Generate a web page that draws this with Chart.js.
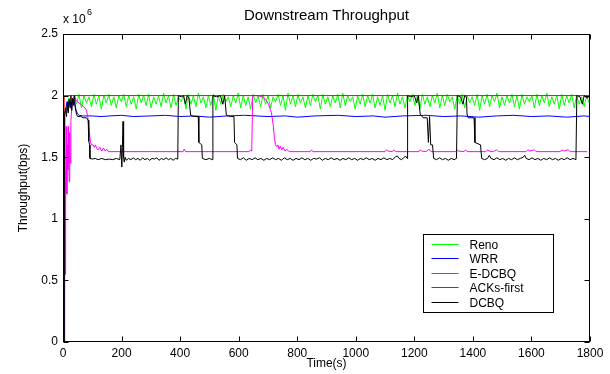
<!DOCTYPE html>
<html>
<head>
<meta charset="utf-8">
<script src="https://cdn.jsdelivr.net/npm/chart.js@4.4.0/dist/chart.umd.min.js"></script>
<style>
  html, body { margin:0; padding:0; background:#fff; }
  #wrap { width:610px; height:374px; position:relative; }
</style>
</head>
<body>
<div id="wrap"><canvas id="myChart"></canvas></div>
<script>
// throughput in units of 1e6 bps, time in seconds
const xTicks = [0, 200, 400, 600, 800, 1000, 1200, 1400, 1600, 1800];
const xTickLabels = ['0', '200', '400', '600', '800', '1000', '1200', '1400', '1600', '1800'];
const yTicks = [0, 0.5, 1, 1.5, 2, 2.5];
const yTickLabels = ['0', '0.5', '1', '1.5', '2', '2.5'];

const seriesNames = ['Reno', 'WRR', 'E-DCBQ', 'ACKs-first', 'DCBQ'];
const seriesColors = ['#00ff00', '#0000ff', '#ff00ff', '#ff0000', '#000000'];

// Reno is sampled on a regular clock
const renoStart = 12, renoStep = 8.5;
const renoThr = [
  1.90, 1.98, 1.92, 2.00, 1.93, 2.01, 1.90, 2.00, 1.94, 1.99, 1.91, 2.01, 1.93, 2.00, 1.89, 2.00, 1.94, 2.01, 1.92, 1.99,
  1.90, 2.00, 1.95, 2.01, 1.91, 2.00, 1.93, 1.99, 1.89, 2.01, 1.94, 2.00, 1.92, 2.01, 1.90, 1.99, 1.93, 2.00, 1.91, 2.02,
  1.94, 2.00, 1.90, 2.01, 1.92, 1.99, 1.95, 2.00, 1.89, 2.01, 1.93, 2.00, 1.91, 2.02, 1.94, 1.99, 1.90, 2.00, 1.92, 2.01,
  1.88, 2.00, 1.93, 2.01, 1.95, 1.99, 1.91, 2.00, 1.94, 2.02, 1.90, 2.00, 1.92, 1.99, 1.89, 2.01, 1.94, 2.00, 1.91, 2.01,
  1.93, 2.00, 1.90, 1.99, 1.95, 2.01, 1.92, 2.00, 1.88, 2.02, 1.93, 2.00, 1.91, 2.01, 1.94, 1.99, 1.90, 2.00, 1.92, 2.01,
  1.95, 2.00, 1.89, 2.01, 1.93, 1.99, 1.91, 2.00, 1.94, 2.01, 1.90, 2.02, 1.92, 2.00, 1.95, 1.99, 1.89, 2.00, 1.93, 2.01,
  1.91, 2.00, 1.94, 2.01, 1.90, 1.99, 1.92, 2.00, 1.88, 2.01, 1.94, 2.00, 1.91, 2.02, 1.93, 1.99, 1.90, 2.00, 1.95, 2.01,
  1.92, 2.00, 1.89, 2.01, 1.93, 1.99, 1.91, 2.00, 1.94, 2.02, 1.90, 2.00, 1.92, 2.01, 1.95, 1.99, 1.89, 2.00, 1.93, 2.01,
  1.90, 2.00, 1.94, 1.99, 1.92, 2.01, 1.88, 2.00, 1.93, 2.01, 1.91, 2.00, 1.95, 2.02, 1.90, 1.99, 1.92, 2.00, 1.94, 2.01,
  1.91, 2.00, 1.89, 2.01, 1.93, 1.99, 1.95, 2.00, 1.90, 2.01, 1.92, 2.00, 1.94, 2.02, 1.91, 1.99, 1.93, 2.00, 1.89, 2.01,
  1.92, 2.00, 1.94, 2.01, 1.90, 2.00, 1.93, 1.99, 1.91, 2.00, 1.94
];

const wrrTime = [0, 3, 6, 10, 14, 17, 20, 24, 28, 32, 36, 40, 45, 50, 55, 70, 100, 130, 160, 200, 240, 300, 350, 400,
  450, 500, 560, 620, 700, 760, 800, 860, 940, 1000, 1060, 1100, 1160, 1240, 1300, 1360, 1420, 1480, 1540, 1600, 1660, 1720, 1780, 1800];
const wrrThr = [0, 0.9, 1.85, 1.9, 1.95, 1.88, 1.93, 1.96, 1.9, 1.95, 1.97, 1.93, 1.88, 1.85, 1.84, 1.835, 1.835, 1.83, 1.835, 1.84, 1.83, 1.835, 1.84, 1.83,
  1.835, 1.825, 1.835, 1.84, 1.83, 1.835, 1.825, 1.835, 1.84, 1.83, 1.835, 1.825, 1.835, 1.84, 1.83, 1.835, 1.825, 1.835, 1.84, 1.83, 1.835, 1.825, 1.835, 1.83];

const edcbqTime = [0, 3, 5, 7, 9, 11, 13, 15, 17, 19, 21, 23, 25, 27, 30, 33, 36, 40, 45, 50, 55, 60, 65, 70, 75, 80, 85, 90, 94, 98,
  103, 107, 111, 115, 120, 126, 132, 138, 144, 150, 155, 200, 260, 300, 410, 414, 417, 420, 600, 636, 640, 643, 645, 648, 665, 680, 692, 702, 712, 718,
  722, 726, 730, 734, 738, 742, 747, 752, 758, 765, 772, 845, 849, 853, 1100, 1105, 1110, 1125, 1130, 1135, 1216, 1220, 1225, 1240, 1250, 1255, 1260,
  1341, 1345, 1350, 1370, 1375, 1380, 1444, 1450, 1455, 1470, 1480, 1488, 1582, 1588, 1594, 1610, 1616, 1699, 1704, 1710, 1726, 1732, 1790];
const edcbqThr = [0, 0.9, 1.5, 0.55, 1.3, 1.75, 1.2, 1.6, 1.4, 1.75, 1.3, 1.7, 1.45, 1.8, 1.9, 1.97, 1.93, 2.0, 1.96, 1.95, 1.94, 1.93, 1.92, 1.91, 1.9, 1.88, 1.82, 1.7, 1.62, 1.6,
  1.6, 1.58, 1.6, 1.57, 1.56, 1.58, 1.55, 1.575, 1.55, 1.565, 1.545, 1.545, 1.545, 1.545, 1.545, 1.565, 1.55, 1.545, 1.545, 1.545, 1.56, 1.55, 1.6, 2.0, 2.0, 1.99, 1.97, 1.93, 1.86, 1.76,
  1.66, 1.6, 1.585, 1.6, 1.565, 1.59, 1.56, 1.58, 1.55, 1.565, 1.545, 1.545, 1.56, 1.545, 1.545, 1.56, 1.55, 1.545, 1.56, 1.545, 1.545, 1.56, 1.55, 1.545, 1.565, 1.55, 1.545,
  1.545, 1.56, 1.55, 1.545, 1.56, 1.545, 1.545, 1.56, 1.55, 1.545, 1.56, 1.545, 1.545, 1.56, 1.55, 1.56, 1.545, 1.545, 1.56, 1.55, 1.56, 1.545, 1.545];

const acksTime = [0, 2, 4, 1800];
const acksThr = [0, 0.6, 2.0, 2.0];

const dcbqTime = [0, 4, 5, 6, 9, 12, 15, 18, 21, 24, 27, 30, 33, 36, 39, 42, 46, 50, 60, 70, 80, 86, 88, 91, 92,
  100, 110, 120, 132, 145, 158, 170, 182, 194, 198, 201, 203, 205, 207, 209, 212, 216, 224, 232, 240, 248, 256, 264, 272, 280, 288, 296,
  304, 312, 320, 328, 336, 344, 352, 360, 368, 376, 384, 392, 394, 404, 412, 418, 424, 430, 436, 448, 462, 464, 474, 476, 488, 500, 510,
  512, 525, 538, 546, 552, 558, 572, 584, 586, 594, 596, 606, 616, 626, 636, 646, 656, 666, 676, 686, 696, 706, 716, 726, 736, 746, 756,
  766, 776, 786, 796, 806, 816, 826, 836, 846, 856, 866, 876, 886, 896, 906, 916, 926, 936, 946, 956, 966, 976, 986, 996, 1006, 1016,
  1026, 1036, 1046, 1056, 1066, 1076, 1086, 1096, 1106, 1116, 1126, 1136, 1142, 1148, 1156, 1164, 1170, 1175, 1177, 1188, 1200, 1208,
  1214, 1220, 1230, 1244, 1248, 1252, 1256, 1262, 1266, 1276, 1286, 1296, 1306, 1316, 1326, 1336, 1344, 1347, 1358, 1366, 1372, 1378,
  1380, 1384, 1404, 1407, 1426, 1430, 1440, 1450, 1456, 1462, 1472, 1482, 1492, 1502, 1512, 1522, 1532, 1542, 1552, 1562, 1572, 1577,
  1582, 1592, 1602, 1612, 1622, 1632, 1642, 1652, 1662, 1672, 1682, 1692, 1702, 1712, 1722, 1732, 1742, 1752, 1755, 1766, 1774, 1780, 1790, 1800];
const dcbqThr = [0, 0, 0.95, 1.85, 1.9, 1.83, 1.95, 1.86, 1.97, 1.9, 2.0, 1.88, 1.98, 1.92, 2.0, 1.9, 1.85, 1.83, 1.83, 1.82, 1.82, 1.8, 1.63, 1.6, 1.49,
  1.485, 1.49, 1.48, 1.49, 1.48, 1.485, 1.48, 1.49, 1.48, 1.6, 1.42, 1.58, 1.79, 1.5, 1.46, 1.5, 1.475, 1.49, 1.48, 1.495, 1.48, 1.49, 1.475, 1.495, 1.48, 1.49, 1.475,
  1.49, 1.485, 1.495, 1.475, 1.49, 1.48, 1.495, 1.48, 1.49, 1.475, 1.49, 1.485, 2.0, 1.99, 2.0, 1.93, 2.0, 1.98, 1.84, 1.83, 1.83, 1.62, 1.6, 1.49, 1.48, 1.49, 1.48,
  2.0, 1.99, 2.0, 1.93, 2.0, 1.84, 1.83, 1.83, 1.62, 1.6, 1.49, 1.48, 1.495, 1.475, 1.49, 1.48, 1.495, 1.48, 1.49, 1.475, 1.49, 1.48, 1.495, 1.48, 1.49, 1.475, 1.495,
  1.48, 1.49, 1.475, 1.49, 1.48, 1.495, 1.48, 1.49, 1.475, 1.49, 1.485, 1.495, 1.475, 1.49, 1.48, 1.495, 1.48, 1.49, 1.475, 1.49, 1.48, 1.495, 1.48, 1.49, 1.475, 1.49,
  1.48, 1.495, 1.48, 1.49, 1.475, 1.49, 1.48, 1.495, 1.48, 1.49, 1.48, 1.505, 1.51, 1.49, 1.48, 1.495, 1.51, 1.49, 2.0, 1.99, 2.0, 1.94,
  2.0, 1.85, 1.82, 1.82, 1.62, 1.83, 1.6, 1.6, 1.49, 1.48, 1.495, 1.48, 1.49, 1.475, 1.49, 1.48, 1.49, 2.0, 1.99, 1.93, 2.0, 1.99,
  1.85, 1.82, 1.82, 1.62, 1.6, 1.49, 1.48, 1.49, 1.515, 1.49, 1.48, 1.495, 1.48, 1.49, 1.475, 1.49, 1.48, 1.495, 1.48, 1.49, 1.5, 1.515,
  1.49, 1.48, 1.495, 1.48, 1.49, 1.475, 1.49, 1.48, 1.495, 1.48, 1.49, 1.475, 1.49, 1.48, 1.495, 1.48, 1.49, 1.48, 2.0, 1.99, 1.93, 2.0, 1.98, 2.0];

const toPoints = (t, v) => t.map((x, i) => ({x: x, y: v[i]}));
const renoPts = renoThr.map((v, i) => ({x: renoStart + i * renoStep, y: v}));

const FONT = 'Liberation Sans, Arial, sans-serif';

const seriesData = [
  renoPts,
  toPoints(wrrTime, wrrThr),
  toPoints(edcbqTime, edcbqThr),
  toPoints(acksTime, acksThr),
  toPoints(dcbqTime, dcbqThr)
];

// matlab look: boxed axes, inward ticks, legend inside
const matlabAxes = {
  id: 'matlabAxes',
  afterDraw(chart) {
    const c = chart.ctx, a = chart.chartArea;
    const xs = chart.scales.x, ys = chart.scales.y;
    c.save();
    c.strokeStyle = '#000';
    c.lineWidth = 1;
    const L = Math.round(a.left) + 0.5, R = Math.round(a.right) - 0.5;
    const T = Math.round(a.top) + 0.5, B = Math.round(a.bottom) - 0.5;
    c.strokeRect(L, T, R - L, B - T);
    const tl = 5;
    c.beginPath();
    xTicks.forEach(v => {
      const px = Math.round(xs.getPixelForValue(v)) + 0.5;
      c.moveTo(px, B); c.lineTo(px, B - tl);
      c.moveTo(px, T); c.lineTo(px, T + tl);
    });
    yTicks.forEach(v => {
      const py = Math.round(ys.getPixelForValue(v)) + 0.5;
      c.moveTo(L, py); c.lineTo(L + tl, py);
      c.moveTo(R, py); c.lineTo(R - tl, py);
    });
    c.stroke();

    c.fillStyle = '#000';
    // title
    c.font = '15px ' + FONT;
    c.textAlign = 'center';
    c.textBaseline = 'alphabetic';
    c.fillText('Downstream Throughput', (a.left + a.right) / 2, 20);
    // exponent
    c.font = '12px ' + FONT;
    c.textAlign = 'left';
    c.fillText('x 10', 63, 23);
    c.font = '9px ' + FONT;
    c.fillText('6', 87, 15);
    // axis titles
    c.font = '12px ' + FONT;
    c.textAlign = 'center';
    c.fillText('Time(s)', (a.left + a.right) / 2, 367);
    c.save();
    c.translate(27, (a.top + a.bottom) / 2);
    c.rotate(-Math.PI / 2);
    c.fillText('Throughput(bps)', 0, 0);
    c.restore();

    // legend box
    const lx = 423.5, ly = 234.5, lw = 130, lh = 78;
    c.fillStyle = '#fff';
    c.fillRect(lx, ly, lw, lh);
    c.strokeStyle = '#000';
    c.strokeRect(lx, ly, lw, lh);
    c.font = '12px ' + FONT;
    c.textAlign = 'left';
    c.textBaseline = 'middle';
    seriesNames.forEach((name, i) => {
      const ry = Math.round(ly + 9 + i * 14.5) + 0.5;
      c.strokeStyle = seriesColors[i];
      c.beginPath();
      c.moveTo(lx + 8, ry); c.lineTo(lx + 35, ry);
      c.stroke();
      c.fillStyle = '#000';
      c.fillText(name, lx + 46, ry + 1);
    });
    c.restore();
  }
};

const ctx = document.getElementById('myChart').getContext('2d');
const myChart = new Chart(ctx, {
  type: 'line',
  data: {
    datasets: seriesNames.map((name, i) => ({
      label: name,
      data: seriesData[i],
      borderColor: seriesColors[i],
      backgroundColor: seriesColors[i],
      borderWidth: 1,
      pointRadius: 0,
      tension: 0,
      fill: false,
      order: seriesNames.length - i
    }))
  },
  options: {
    responsive: true,
    maintainAspectRatio: false,
    animation: false,
    events: [],
    layout: { padding: { left: 0, top: 34, right: 20, bottom: 0 } },
    plugins: { legend: { display: false }, title: { display: false }, tooltip: { enabled: false } },
    scales: {
      x: {
        type: 'linear', min: 0, max: 1800,
        afterBuildTicks: s => { s.ticks = xTicks.map(v => ({value: v})); },
        afterFit: s => { s.height = 32; },
        grid: { display: false, drawTicks: false },
        border: { display: false },
        ticks: {
          color: '#000', font: { family: FONT, size: 12 }, padding: 4, maxRotation: 0, autoSkip: false,
          callback: v => xTickLabels[xTicks.indexOf(v)]
        }
      },
      y: {
        type: 'linear', min: 0, max: 2.5,
        afterBuildTicks: s => { s.ticks = yTicks.map(v => ({value: v})); },
        afterFit: s => { s.width = 63; },
        grid: { display: false, drawTicks: false },
        border: { display: false },
        ticks: {
          color: '#000', font: { family: FONT, size: 12 }, padding: 5, autoSkip: false,
          callback: v => yTickLabels[yTicks.indexOf(v)]
        }
      }
    }
  },
  plugins: [matlabAxes]
});
</script>
</body>
</html>
